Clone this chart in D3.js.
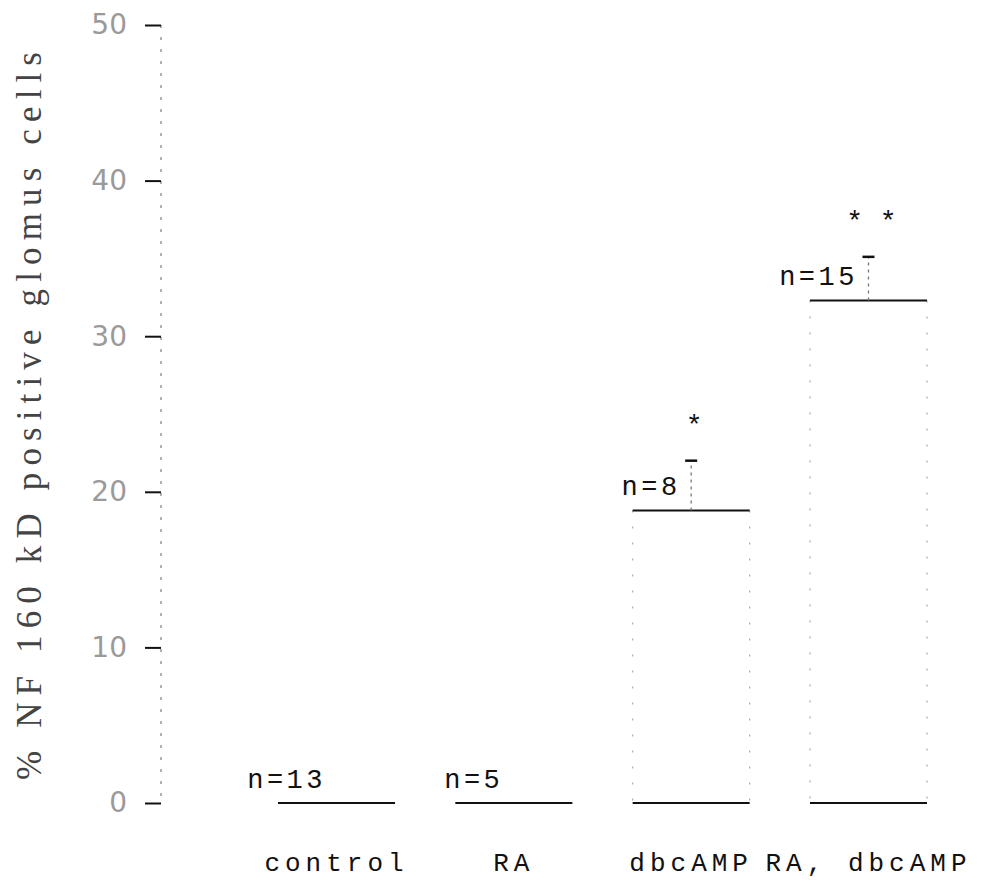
<!DOCTYPE html>
<html><head><meta charset="utf-8">
<script src="https://cdn.jsdelivr.net/npm/d3@7"></script>
<style>html,body{margin:0;padding:0;background:#fff;}svg{display:block;}</style>
</head><body>
<script>
const categories = ["control", "RA", "dbcAMP", "RA, dbcAMP"];
const means = [0, 0, 18.8, 32.3];
const errors = [0, 0, 3.2, 2.8];
const nLabels = ["n=13", "n=5", "n=8", "n=15"];
const sigLabels = ["", "", "*", "* *"];
const yTicks = [0, 10, 20, 30, 40, 50];
const yTitle = "% NF 160 kD positive glomus cells";

const W = 995, H = 884;
const svg = d3.select("body").append("svg").attr("width", W).attr("height", H);

const y = d3.scaleLinear().domain([0, 50]).range([803, 25]);
const x = d3.scaleBand().domain(categories).range([278, 927]).paddingInner(0.34).paddingOuter(0);
const axisX = 161;

// y axis line (faint, as in scan)
svg.append("line").attr("x1", axisX).attr("x2", axisX).attr("y1", y(50)).attr("y2", y(0))
  .attr("stroke", "#999").attr("stroke-width", 1.5).attr("stroke-dasharray", "3,9");

const yAxis = d3.axisLeft(y).tickValues(yTicks).tickSize(16).tickPadding(18).tickFormat(d3.format("d"));
const gy = svg.append("g").attr("transform", `translate(${axisX},0)`).call(yAxis);
gy.select(".domain").remove();
gy.selectAll(".tick line").attr("stroke", "#111").attr("stroke-width", 2);
gy.selectAll(".tick text").attr("font-family", "'DejaVu Sans', sans-serif")
  .attr("font-size", 28).attr("fill", "#9a9a9a");

// y title
svg.append("text")
  .attr("transform", `translate(41,${(y(0)+y(50))/2 + 2}) rotate(-90)`)
  .attr("text-anchor", "middle")
  .attr("font-family", "'Liberation Serif', 'Times New Roman', serif")
  .attr("font-size", 35).attr("fill", "#444")
  .attr("textLength", 728).attr("lengthAdjust", "spacing")
  .text(yTitle);

const data = categories.map((c, i) => ({c, m: means[i], e: errors[i], n: nLabels[i], s: sigLabels[i]}));

const bars = svg.append("g").selectAll("g").data(data).join("g");

// faint bar sides
bars.filter(d => d.m > 0).each(function(d) {
  const g = d3.select(this);
  [x(d.c), x(d.c) + x.bandwidth()].forEach(px => {
    g.append("line").attr("x1", px).attr("x2", px).attr("y1", y(d.m)).attr("y2", y(0))
      .attr("stroke", "#aaa").attr("stroke-width", 1.2).attr("stroke-dasharray", "2,14");
  });
});
// bottom line
bars.append("line").attr("x1", d => x(d.c)).attr("x2", d => x(d.c) + x.bandwidth())
  .attr("y1", y(0)).attr("y2", y(0)).attr("stroke", "#111").attr("stroke-width", 2);
// top line
bars.filter(d => d.m > 0).append("line").attr("x1", d => x(d.c)).attr("x2", d => x(d.c) + x.bandwidth())
  .attr("y1", d => y(d.m)).attr("y2", d => y(d.m)).attr("stroke", "#111").attr("stroke-width", 2);

// error bars
const eb = bars.filter(d => d.e > 0);
eb.append("line").attr("x1", d => x(d.c) + x.bandwidth()/2).attr("x2", d => x(d.c) + x.bandwidth()/2)
  .attr("y1", d => y(d.m)).attr("y2", d => y(d.m + d.e))
  .attr("stroke", "#777").attr("stroke-width", 1.3).attr("stroke-dasharray", "3,4");
eb.append("line").attr("x1", d => x(d.c) + x.bandwidth()/2 - 6).attr("x2", d => x(d.c) + x.bandwidth()/2 + 6)
  .attr("y1", d => y(d.m + d.e)).attr("y2", d => y(d.m + d.e)).attr("stroke", "#111").attr("stroke-width", 2.5);

// significance marks
eb.append("text").attr("x", d => x(d.c) + x.bandwidth()/2 + 3).attr("y", d => y(d.m + d.e) - 27)
  .attr("text-anchor", "middle").attr("font-family", "'Liberation Mono', monospace")
  .attr("font-size", 28).attr("fill", "#111").text(d => d.s);

// n labels
bars.append("text").attr("x", d => x(d.c) + 48).attr("y", d => y(d.m) - 15)
  .attr("text-anchor", "end").attr("font-family", "'Liberation Mono', 'Courier New', monospace")
  .attr("font-size", 27).attr("letter-spacing", 3.5).attr("fill", "#111").text(d => d.n);

// category labels
const gx = svg.append("g").attr("transform", `translate(0,${y(0)})`)
  .call(d3.axisBottom(x).tickSize(0).tickPadding(50));
gx.select(".domain").remove();
gx.selectAll(".tick text").attr("font-family", "'Liberation Mono', 'Courier New', monospace")
  .attr("font-size", 26).attr("letter-spacing", 5).attr("fill", "#111");
</script>
</body></html>
